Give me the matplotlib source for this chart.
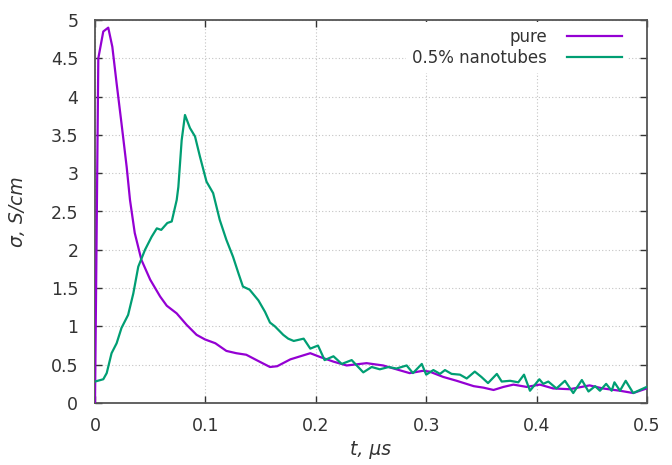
import matplotlib
matplotlib.use("Agg")
import matplotlib.pyplot as plt
from matplotlib.ticker import FormatStrFormatter, MultipleLocator

# pure sample
t_pure = [0.0, 0.003, 0.0075, 0.012, 0.0157, 0.0196, 0.024, 0.0287, 0.0317, 0.036,
          0.042, 0.050, 0.059, 0.065, 0.074, 0.083, 0.092, 0.0996, 0.109, 0.119,
          0.128, 0.137, 0.149, 0.1585, 0.165, 0.177, 0.186, 0.195, 0.204, 0.216,
          0.228, 0.246, 0.261, 0.273, 0.285, 0.297, 0.303, 0.3155, 0.3276, 0.343,
          0.352, 0.361, 0.370, 0.379, 0.391, 0.403, 0.415, 0.430, 0.448, 0.460,
          0.4755, 0.4876, 0.4997]
s_pure = [0.0, 4.5, 4.85, 4.90, 4.65, 4.17, 3.65, 3.08, 2.65, 2.22,
          1.87, 1.61, 1.39, 1.27, 1.17, 1.02, 0.89, 0.83, 0.78, 0.68,
          0.65, 0.63, 0.54, 0.47, 0.48, 0.57, 0.61, 0.65, 0.60, 0.54,
          0.49, 0.52, 0.49, 0.44, 0.39, 0.42, 0.41, 0.34, 0.29, 0.22,
          0.20, 0.17, 0.21, 0.24, 0.21, 0.24, 0.19, 0.18, 0.23, 0.19,
          0.16, 0.13, 0.19]

# 0.5% nanotubes
t_nano = [0.0, 0.0075, 0.0106, 0.015, 0.0196, 0.024, 0.030, 0.0347, 0.0392, 0.0453,
          0.0513, 0.056, 0.060, 0.0655, 0.0695, 0.074, 0.0755, 0.0785, 0.0815, 0.086,
          0.0906, 0.095, 0.101, 0.107, 0.113, 0.119, 0.125, 0.130, 0.134, 0.140,
          0.148, 0.154, 0.1585, 0.163, 0.1705, 0.175, 0.180, 0.189, 0.195, 0.202,
          0.208, 0.216, 0.2235, 0.2325, 0.243, 0.2506, 0.258, 0.266, 0.273, 0.2823,
          0.288, 0.296, 0.300, 0.3065, 0.3125, 0.317, 0.323, 0.3306, 0.3367, 0.344,
          0.350, 0.356, 0.364, 0.3684, 0.376, 0.3834, 0.3886, 0.394, 0.4025, 0.406,
          0.4106, 0.418, 0.4257, 0.4332, 0.441, 0.447, 0.453, 0.4574, 0.463, 0.468,
          0.4705, 0.4755, 0.4807, 0.4875, 0.4997]
s_nano = [0.28, 0.31, 0.39, 0.65, 0.78, 0.98, 1.15, 1.43, 1.78, 2.00,
          2.17, 2.28, 2.26, 2.35, 2.37, 2.65, 2.82, 3.43, 3.76, 3.59,
          3.48, 3.22, 2.89, 2.74, 2.39, 2.13, 1.91, 1.69, 1.52, 1.48,
          1.34, 1.19, 1.05, 1.00, 0.89, 0.84, 0.81, 0.84, 0.71, 0.75,
          0.56, 0.61, 0.51, 0.56, 0.40, 0.47, 0.44, 0.47, 0.45, 0.49,
          0.39, 0.51, 0.37, 0.43, 0.38, 0.43, 0.38, 0.37, 0.32, 0.41,
          0.34, 0.26, 0.38, 0.28, 0.29, 0.27, 0.37, 0.16, 0.31, 0.25,
          0.28, 0.19, 0.29, 0.13, 0.30, 0.15, 0.22, 0.16, 0.25, 0.16,
          0.27, 0.16, 0.29, 0.13, 0.21]

text_color = "#333333"

fig = plt.figure(figsize=(6.72, 4.65), dpi=100)
ax = fig.add_axes([95 / 672, 1 - 403 / 465, 552 / 672, 383 / 465])

ax.plot(t_pure, s_pure, color="#9400D3", lw=1.6, label="pure", zorder=3)
ax.plot(t_nano, s_nano, color="#009E73", lw=1.6, label="0.5% nanotubes", zorder=3)

ax.set_xlim(0, 0.5)
ax.set_ylim(0, 5)
ax.xaxis.set_major_locator(MultipleLocator(0.1))
ax.yaxis.set_major_locator(MultipleLocator(0.5))
ax.xaxis.set_major_formatter(FormatStrFormatter("%g"))
ax.yaxis.set_major_formatter(FormatStrFormatter("%g"))

ax.tick_params(direction="in", length=5, width=1, color="#333333",
               top=True, right=True, labelsize=12.5, labelcolor=text_color)
ax.tick_params(axis="y", pad=12)
ax.tick_params(axis="x", pad=10)

for sp in ax.spines.values():
    sp.set_color("#555555")
    sp.set_linewidth(1.3)

ax.grid(True, linestyle=(0, (1, 2)), color="#c4c4c4", lw=0.8)
ax.set_axisbelow(True)

ax.set_xlabel("t, μs", fontsize=13.5, style="italic", color=text_color, labelpad=4)
ax.set_ylabel("σ, S/cm", fontsize=13.5, style="italic", color=text_color, labelpad=17)

# markerfirst=False right-aligns the rows, like gnuplot's key
leg = ax.legend(loc="upper right", bbox_to_anchor=(1 - 19 / 552, 1 - 2 / 383),
                markerfirst=False, frameon=True, fontsize=12,
                handlelength=3.3, handletextpad=1.2, labelspacing=0.2,
                borderaxespad=0.0, borderpad=0.35, fancybox=False)
leg.get_frame().set_edgecolor("none")
leg.get_frame().set_facecolor("white")
leg.get_frame().set_alpha(1)
leg.set_zorder(2.4)  # above the grid, below the frame spines
for t in leg.get_texts():
    t.set_color(text_color)

fig.savefig("out.png", dpi=100)
